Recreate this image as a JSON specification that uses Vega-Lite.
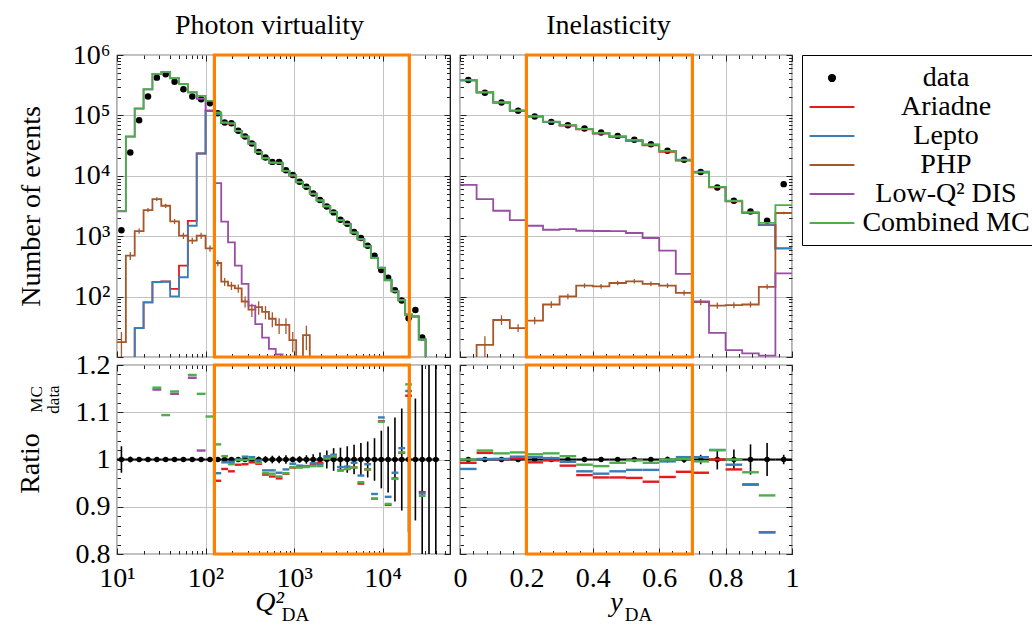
{
"$schema":"https://vega.github.io/schema/vega-lite/v6.json",
"autosize":{"type":"pad"},
"padding":{"left":15,"top":10,"right":0,"bottom":0},
"background":"white",
"config":{
 "font":"Liberation Serif",
 "view":{"stroke":"black","strokeWidth":1.2},
 "axis":{"domain":false,"minExtent":0,"labelFont":"Liberation Serif","labelFontSize":28,"labelColor":"black","titleFont":"Liberation Serif","titleFontSize":28,"titleFontWeight":"normal","titleColor":"black","tickColor":"#222222","tickWidth":1,"gridColor":"#c4c4c4","gridWidth":1,"gridOpacity":1,"labelFlush":false,"labelOverlap":false,"labelBound":false},
 "axisX":{"minExtent":0},
 "axisY":{"minExtent":0}
},
"datasets":{
"q":[
{"lo":10,"hi":12.589,"c":11.22,"d":1260,"elo":0.972,"ehi":1.028,"A":1,"L":1,"P":17.6,"plo":9,"phi":26,"W":2590,"M":2600},
{"lo":12.589,"hi":15.849,"c":14.13,"d":24300,"elo":0.994,"ehi":1.006,"A":1,"L":1,"P":476,"plo":405,"phi":547,"W":44500,"M":44700},
{"lo":15.849,"hi":19.953,"c":17.78,"d":83000,"elo":0.996,"ehi":1.004,"A":30,"L":30,"P":1216,"plo":1094,"phi":1338,"W":129300,"M":130000},
{"lo":19.953,"hi":25.119,"c":22.39,"d":205000,"elo":0.997,"ehi":1.003,"A":80,"L":80,"P":2710,"plo":2493,"phi":2927,"W":269500,"M":271000},
{"lo":25.119,"hi":31.623,"c":28.18,"d":422000,"elo":0.998,"ehi":1.002,"A":173,"L":173,"P":4110,"plo":3822,"phi":4398,"W":484500,"M":486000,"rW":1.148,"rM":1.152},
{"lo":31.623,"hi":39.811,"c":35.48,"d":479000,"elo":0.998,"ehi":1.002,"A":179,"L":176,"P":3190,"plo":2935,"phi":3445,"W":521000,"M":524000,"rM":1.094},
{"lo":39.811,"hi":50.119,"c":44.67,"d":362000,"elo":0.998,"ehi":1.002,"A":134,"L":101,"P":1760,"plo":1584,"phi":1936,"W":412000,"M":414000,"rW":1.139,"rM":1.144},
{"lo":50.119,"hi":63.096,"c":56.23,"d":271000,"elo":0.998,"ehi":1.002,"A":325,"L":209,"P":1020,"plo":898,"phi":1142,"W":330000,"M":331000},
{"lo":63.096,"hi":79.433,"c":70.79,"d":205000,"elo":0.998,"ehi":1.002,"A":1800,"L":1490,"P":843,"plo":742,"phi":944,"W":240500,"M":241700,"rW":1.173,"rM":1.179},
{"lo":79.433,"hi":100,"c":89.13,"d":185000,"elo":0.998,"ehi":1.002,"A":23400,"L":23400,"P":1020,"plo":898,"phi":1142,"W":188500,"M":210700,"rW":1.019,"rM":1.139},
{"lo":100,"hi":125.89,"c":112.2,"d":159000,"elo":0.997,"ehi":1.003,"A":120000,"L":118000,"P":629,"plo":554,"phi":704,"W":120000,"M":173500,"rM":1.091},
{"lo":125.89,"hi":150.27,"c":137.5,"d":108700,"elo":0.997,"ehi":1.003,"A":103800,"L":105500,"P":360,"plo":317,"phi":403,"W":7570,"M":112200,"rA":0.955,"rL":0.971,"rM":1.032},
{"lo":150.27,"hi":179.39,"c":164.2,"d":76200,"elo":0.996,"ehi":1.004,"A":74680,"L":75740,"P":177,"plo":150,"phi":204,"W":1740,"M":76730,"rA":0.980,"rL":0.994,"rM":1.007},
{"lo":179.39,"hi":214.15,"c":196.0,"d":74300,"elo":0.996,"ehi":1.004,"A":72440,"L":73930,"P":152,"plo":129,"phi":175,"W":791,"M":73560,"rA":0.975,"rL":0.995,"rM":0.990},
{"lo":214.15,"hi":255.65,"c":234.0,"d":55500,"elo":0.996,"ehi":1.004,"A":54890,"L":55500,"P":137,"plo":116,"phi":158,"W":325,"M":55440,"rA":0.989,"rL":1.000,"rM":0.999},
{"lo":255.65,"hi":305.18,"c":279.3,"d":44700,"elo":0.995,"ehi":1.005,"A":44250,"L":44970,"P":83,"plo":66,"phi":100,"W":162,"M":44660,"rA":0.990,"rL":1.006,"rM":0.999},
{"lo":305.18,"hi":364.31,"c":333.4,"d":34200,"elo":0.995,"ehi":1.005,"A":33990,"L":34370,"P":61,"plo":46,"phi":76,"W":71,"M":34230,"rA":0.994,"rL":1.005,"rM":1.001},
{"lo":364.31,"hi":434.91,"c":398.0,"d":24900,"elo":0.994,"ehi":1.006,"A":24680,"L":24850,"P":67,"plo":50,"phi":84,"W":35,"M":24730,"rA":0.991,"rL":0.998,"rM":0.993},
{"lo":434.91,"hi":519.18,"c":475.1,"d":20100,"elo":0.993,"ehi":1.007,"A":19460,"L":19640,"P":56,"plo":42,"phi":70,"W":21,"M":19520,"rA":0.968,"rL":0.977,"rM":0.971},
{"lo":519.18,"hi":619.77,"c":567.2,"d":17000,"elo":0.992,"ehi":1.008,"A":16390,"L":16610,"P":43,"plo":31,"phi":55,"W":13.6,"M":16490,"rA":0.964,"rL":0.977,"rM":0.970},
{"lo":619.77,"hi":739.86,"c":677.1,"d":17000,"elo":0.992,"ehi":1.008,"A":16320,"L":16520,"P":34,"plo":24,"phi":44,"W":11,"M":16390,"rA":0.960,"rL":0.972,"rM":0.964},
{"lo":739.86,"hi":883.21,"c":808.3,"d":12400,"elo":0.991,"ehi":1.009,"A":12030,"L":12140,"P":34,"plo":24,"phi":44,"W":1,"M":12040,"rA":0.970,"rL":0.979,"rM":0.971},
{"lo":883.21,"hi":1054.3,"c":964.9,"d":10300,"elo":0.994,"ehi":1.006,"A":10120,"L":10210,"P":19,"plo":12,"phi":26,"W":1,"M":10140,"rA":0.983,"rL":0.991,"rM":0.984},
{"lo":1054.3,"hi":1258.9,"c":1151.9,"d":7960,"elo":0.993,"ehi":1.007,"A":7830,"L":7860,"P":1,"W":1,"M":7820,"rA":0.984,"rL":0.987,"rM":0.983},
{"lo":1258.9,"hi":1502.7,"c":1375.1,"d":6580,"elo":0.991,"ehi":1.009,"A":6490,"L":6490,"P":23,"plo":13,"phi":33,"W":1,"M":6470,"rA":0.986,"rL":0.986,"rM":0.984},
{"lo":1502.7,"hi":1793.9,"c":1641.6,"d":5100,"elo":0.989,"ehi":1.011,"A":5050,"L":5060,"P":1,"W":1,"M":5030,"rA":0.991,"rL":0.992,"rM":0.986},
{"lo":1793.9,"hi":2141.5,"c":1959.7,"d":3960,"elo":0.985,"ehi":1.015,"A":3930,"L":3920,"P":1,"W":1,"M":3900,"rA":0.993,"rL":0.990,"rM":0.986},
{"lo":2141.5,"hi":2556.5,"c":2339.4,"d":3110,"elo":0.981,"ehi":1.019,"A":3120,"L":3130,"P":1,"W":1,"M":3120,"rA":1.004,"rL":1.007,"rM":1.002},
{"lo":2556.5,"hi":3051.8,"c":2792.7,"d":2480,"elo":0.976,"ehi":1.024,"A":2490,"L":2500,"P":1,"W":1,"M":2500,"rA":1.006,"rL":1.010,"rM":1.007},
{"lo":3051.8,"hi":3643.1,"c":3333.9,"d":1870,"elo":0.975,"ehi":1.025,"A":1830,"L":1840,"P":1,"W":1,"M":1830,"rA":0.977,"rL":0.984,"rM":0.977},
{"lo":3643.1,"hi":4349.1,"c":3979.9,"d":1610,"elo":0.972,"ehi":1.028,"A":1580,"L":1590,"P":1,"W":1,"M":1580,"rA":0.980,"rL":0.985,"rM":0.980},
{"lo":4349.1,"hi":5191.8,"c":4751.1,"d":1170,"elo":0.969,"ehi":1.031,"A":1150,"L":1160,"P":1,"W":1,"M":1150,"rA":0.983,"rL":0.993,"rM":0.983},
{"lo":5191.8,"hi":6197.7,"c":5671.8,"d":933,"elo":0.965,"ehi":1.035,"A":885,"L":901,"P":1,"W":1,"M":888,"rA":0.949,"rL":0.966,"rM":0.952},
{"lo":6197.7,"hi":7398.6,"c":6770.9,"d":697,"elo":0.962,"ehi":1.038,"A":682,"L":690,"P":1,"W":1,"M":682,"rA":0.979,"rL":0.990,"rM":0.979},
{"lo":7398.6,"hi":8832.1,"c":8082.9,"d":476,"elo":0.955,"ehi":1.045,"A":436,"L":441,"P":1,"W":1,"M":436,"rA":0.917,"rL":0.927,"rM":0.917},
{"lo":8832.1,"hi":10546,"c":9649.1,"d":276,"elo":0.939,"ehi":1.061,"A":298,"L":301,"P":1,"W":1,"M":298,"rA":1.081,"rL":1.089,"rM":1.080},
{"lo":10546,"hi":12589,"c":11519,"d":206,"elo":0.93,"ehi":1.07,"A":186,"L":190,"P":1,"W":1,"M":187,"rA":0.904,"rL":0.921,"rM":0.906},
{"lo":12589,"hi":15027,"c":13751,"d":127,"elo":0.911,"ehi":1.089,"A":122,"L":123,"P":1,"W":1,"M":122,"rA":0.960,"rL":0.972,"rM":0.959},
{"lo":15027,"hi":17939,"c":16416,"d":86,"elo":0.892,"ehi":1.108,"A":87,"L":88,"P":1,"W":1,"M":87,"rA":1.014,"rL":1.024,"rM":1.015},
{"lo":17939,"hi":21415,"c":19597,"d":44,"elo":0.846,"ehi":1.154,"A":49.9,"L":50.4,"P":1,"W":1,"M":51,"rA":1.135,"rL":1.145,"rM":1.159},
{"lo":21415,"hi":25565,"c":23394,"d":60,"elo":0.871,"ehi":1.129,"A":46.8,"L":46.8,"P":1,"W":1,"M":47},
{"lo":25565,"hi":30518,"c":27927,"d":21,"elo":0.7,"ehi":1.3,"A":19.6,"L":19.5,"P":1,"W":1,"M":19.4,"rA":0.931,"rL":0.928,"rM":0.923},
{"lo":30518,"hi":36431,"c":33339,"d":5,"elo":0.5,"ehi":1.5,"A":1,"L":1,"P":1,"W":1,"M":1},
{"lo":36431,"hi":43491,"c":39799,"d":3,"elo":0.4,"ehi":1.6,"A":1,"L":1,"P":1,"W":1,"M":1},
{"lo":43491,"A":1,"L":1,"P":1,"W":1,"M":1}
],
"y":[
{"lo":0,"hi":0.05,"c":0.025,"d":386000,"elo":0.998,"ehi":1.002,"A":383300,"L":378300,"P":3,"W":7100,"M":386000,"rA":0.993,"rL":0.980,"rM":1.000},
{"lo":0.05,"hi":0.1,"c":0.075,"d":238000,"elo":0.998,"ehi":1.002,"A":241300,"L":238200,"P":15.9,"plo":10,"phi":22,"W":4110,"M":242500,"rA":1.014,"rL":1.001,"rM":1.019},
{"lo":0.1,"hi":0.15,"c":0.125,"d":163000,"elo":0.998,"ehi":1.002,"A":163200,"L":163200,"P":41,"plo":34,"phi":49,"W":2640,"M":165100,"rA":1.001,"rL":1.001,"rM":1.013},
{"lo":0.15,"hi":0.2,"c":0.175,"d":119000,"elo":0.997,"ehi":1.003,"A":119200,"L":119700,"P":30,"plo":26,"phi":35,"W":1850,"M":120800,"rA":1.002,"rL":1.006,"rM":1.015},
{"lo":0.2,"hi":0.25,"c":0.225,"d":95700,"elo":0.997,"ehi":1.003,"A":95130,"L":96180,"P":40,"plo":35,"phi":46,"W":1490,"M":96750,"rA":0.994,"rL":1.005,"rM":1.011},
{"lo":0.25,"hi":0.3,"c":0.275,"d":78100,"elo":0.997,"ehi":1.003,"A":77940,"L":78330,"P":74,"plo":65,"phi":84,"W":1280,"M":79120,"rA":0.998,"rL":1.003,"rM":1.013},
{"lo":0.3,"hi":0.35,"c":0.325,"d":68800,"elo":0.997,"ehi":1.003,"A":67910,"L":68460,"P":101,"plo":90,"phi":112,"W":1310,"M":69280,"rA":0.987,"rL":0.995,"rM":1.007},
{"lo":0.35,"hi":0.4,"c":0.375,"d":60600,"elo":0.997,"ehi":1.003,"A":58600,"L":59090,"P":152,"plo":138,"phi":166,"W":1230,"M":59930,"rA":0.967,"rL":0.975,"rM":0.989},
{"lo":0.4,"hi":0.45,"c":0.425,"d":52000,"elo":0.996,"ehi":1.004,"A":50020,"L":50440,"P":148,"plo":135,"phi":162,"W":1220,"M":51270,"rA":0.962,"rL":0.970,"rM":0.986},
{"lo":0.45,"hi":0.5,"c":0.475,"d":45800,"elo":0.996,"ehi":1.004,"A":44060,"L":44660,"P":168,"plo":154,"phi":183,"W":1210,"M":45480,"rA":0.962,"rL":0.975,"rM":0.993},
{"lo":0.5,"hi":0.55,"c":0.525,"d":39400,"elo":0.995,"ehi":1.005,"A":37860,"L":38530,"P":179,"plo":164,"phi":195,"W":1130,"M":39320,"rA":0.961,"rL":0.978,"rM":0.998},
{"lo":0.55,"hi":0.6,"c":0.575,"d":33400,"elo":0.995,"ehi":1.005,"A":31830,"L":32670,"P":162,"plo":148,"phi":177,"W":933,"M":33170,"rA":0.953,"rL":0.978,"rM":0.993},
{"lo":0.6,"hi":0.65,"c":0.625,"d":25900,"elo":0.994,"ehi":1.006,"A":24940,"L":25800,"P":152,"plo":139,"phi":166,"W":575,"M":25900,"rA":0.963,"rL":0.996,"rM":1.000},
{"lo":0.65,"hi":0.7,"c":0.675,"d":18400,"elo":0.993,"ehi":1.007,"A":17920,"L":18490,"P":115,"plo":104,"phi":127,"W":237,"M":18420,"rA":0.974,"rL":1.005,"rM":1.001},
{"lo":0.7,"hi":0.75,"c":0.725,"d":11600,"elo":0.99,"ehi":1.01,"A":11280,"L":11660,"P":81,"plo":72,"phi":91,"W":83,"M":11550,"rA":0.972,"rL":1.005,"rM":0.996},
{"lo":0.75,"hi":0.8,"c":0.775,"d":6410,"elo":0.979,"ehi":1.021,"A":6410,"L":6540,"P":71,"plo":63,"phi":80,"W":25,"M":6540,"rA":1.000,"rL":1.020,"rM":1.020},
{"lo":0.8,"hi":0.85,"c":0.825,"d":3860,"elo":0.979,"ehi":1.021,"A":3780,"L":3820,"P":72,"plo":64,"phi":81,"W":13,"M":3860,"rA":0.979,"rL":0.989,"rM":1.000},
{"lo":0.85,"hi":0.9,"c":0.875,"d":2570,"elo":0.968,"ehi":1.032,"A":2430,"L":2430,"P":74,"plo":66,"phi":83,"W":11.5,"M":2500,"rA":0.947,"rL":0.947,"rM":0.973},
{"lo":0.9,"hi":0.95,"c":0.925,"d":1800,"elo":0.965,"ehi":1.035,"A":1523,"L":1523,"P":145,"plo":132,"phi":160,"W":10.5,"M":1663,"rA":0.846,"rL":0.846,"rM":0.924},
{"lo":0.95,"hi":1.0,"c":0.975,"d":7280,"elo":0.99,"ehi":1.01,"A":631,"L":631,"P":2420,"plo":2300,"phi":2540,"W":243,"M":3270},
{"lo":1.0,"A":631,"L":631,"P":2420,"W":243,"M":3270}
]
},
"columns":2,
"spacing":{"row":8,"column":10},
"bounds":"flush",
"align":"all",
"concat":[
{
 "width":333,"height":302,
 "data":{"name":"q"},
 "resolve":{"axis":{"x":"independent","y":"independent"}},
 "layer":[
  {"mark":{"type":"circle","size":42,"opacity":1,"clip":true},
   "encoding":{
    "x":{"field":"c","type":"quantitative","scale":{"type":"log","domain":[10,57544],"nice":false},"axis":{"orient":"bottom","values":[10,100,1000,10000],"ticks":false,"labels":false,"grid":true,"title":null}},
    "y":{"field":"d","type":"quantitative","scale":{"type":"log","domain":[10,1000000],"nice":false},"axis":{"orient":"left","values":[10,100,1000,10000,100000,1000000],"ticks":false,"grid":true,"labelPadding":7,"labelExpr":"datum.value < 50 ? '' : '10' + ['⁰','¹','²','³','⁴','⁵','⁶'][round(log(datum.value)/LN10)]","title":"Number of events","titleX":-86,"titleY":151,"titleBaseline":"middle"}},
    "color":{"datum":"data","type":"nominal",
     "scale":{"domain":["data","Ariadne","Lepto","PHP","Low-Q² DIS","Combined MC"],"range":["#000000","#e41a1c","#377eb8","#a65628","#984ea3","#4daf4a"]},
     "legend":{"orient":"none","legendX":685,"legendY":0,"title":null,"padding":8,"strokeColor":"black","fillColor":"white","symbolSize":784,"symbolOffset":7,"symbolStrokeWidth":2,
      "symbolType":{"expr":"datum.value === 'data' ? 'M-0.22,0A0.22,0.22,0,1,1,0.22,0A0.22,0.22,0,1,1,-0.22,0Z' : 'M-1.6,0H1.6'"},
      "symbolFillColor":{"expr":"datum.value === 'data' ? 'black' : 'transparent'"},
      "symbolStrokeColor":{"expr":"scale('color', datum.value)"},
      "labelOffset":99,"labelAlign":"center","labelBaseline":"middle","labelFont":"Liberation Serif","labelFontSize":28,"labelColor":"black","labelLimit":0,"rowPadding":-4}}
   }},
  {"mark":{"type":"line","interpolate":"step-after","strokeWidth":1.8,"clip":true},
   "encoding":{
    "x":{"field":"lo","type":"quantitative","axis":{"orient":"bottom","values":[10,100,1000,10000],"tickSize":-6,"labels":false,"grid":false,"title":null}},
    "y":{"field":"A","type":"quantitative","axis":{"orient":"left","values":[10,100,1000,10000,100000,1000000],"tickSize":-6,"labels":false,"grid":false,"title":null}},
    "color":{"datum":"Ariadne","type":"nominal"}}},
  {"mark":{"type":"line","interpolate":"step-after","strokeWidth":1.8,"clip":true},
   "encoding":{
    "x":{"field":"lo","type":"quantitative","axis":{"orient":"bottom","values":[20,30,40,50,60,70,80,90,200,300,400,500,600,700,800,900,2000,3000,4000,5000,6000,7000,8000,9000,20000,30000,40000,50000],"tickSize":-3.5,"labels":false,"grid":false,"title":null}},
    "y":{"field":"L","type":"quantitative","axis":{"orient":"left","values":[20,30,40,50,60,70,80,90,200,300,400,500,600,700,800,900,2000,3000,4000,5000,6000,7000,8000,9000,20000,30000,40000,50000,60000,70000,80000,90000,200000,300000,400000,500000,600000,700000,800000,900000],"tickSize":-3.5,"labels":false,"grid":false,"title":null}},
    "color":{"datum":"Lepto","type":"nominal"}}},
  {"mark":{"type":"line","interpolate":"step-after","strokeWidth":1.8,"clip":true},
   "encoding":{
    "x":{"field":"lo","type":"quantitative","axis":{"orient":"top","values":[10,100,1000,10000],"tickSize":-6,"labels":false,"grid":false,"title":"Photon virtuality","titleX":152,"titleY":-22,"titleBaseline":"alphabetic","titleAlign":"center","titleAngle":0}},
    "y":{"field":"P","type":"quantitative","axis":{"orient":"right","values":[10,100,1000,10000,100000,1000000],"tickSize":-6,"labels":false,"grid":false,"title":null}},
    "color":{"datum":"PHP","type":"nominal"}}},
  {"mark":{"type":"line","interpolate":"step-after","strokeWidth":1.8,"clip":true},
   "encoding":{
    "x":{"field":"lo","type":"quantitative","axis":{"orient":"top","values":[20,30,40,50,60,70,80,90,200,300,400,500,600,700,800,900,2000,3000,4000,5000,6000,7000,8000,9000,20000,30000,40000,50000],"tickSize":-3.5,"labels":false,"grid":false,"title":null}},
    "y":{"field":"W","type":"quantitative","axis":{"orient":"right","values":[20,30,40,50,60,70,80,90,200,300,400,500,600,700,800,900,2000,3000,4000,5000,6000,7000,8000,9000,20000,30000,40000,50000,60000,70000,80000,90000,200000,300000,400000,500000,600000,700000,800000,900000],"tickSize":-3.5,"labels":false,"grid":false,"title":null}},
    "color":{"datum":"Low-Q² DIS","type":"nominal"}}},
  {"mark":{"type":"line","interpolate":"step-after","strokeWidth":1.8,"clip":true},
   "encoding":{
    "x":{"field":"lo","type":"quantitative","axis":null},
    "y":{"field":"M","type":"quantitative","axis":null},
    "color":{"datum":"Combined MC","type":"nominal"}}},
  {"mark":{"type":"rule","strokeWidth":1.3,"clip":true},
   "encoding":{
    "x":{"field":"c","type":"quantitative","axis":null},
    "y":{"field":"plo","type":"quantitative","axis":null},
    "y2":{"field":"phi"},
    "color":{"datum":"PHP","type":"nominal"}}},
  {"data":{"values":[{"x1":125.89,"x2":20000}]},
   "mark":{"type":"rect","fill":"transparent","stroke":"#ff7f00","strokeWidth":3.2},
   "encoding":{"x":{"field":"x1","type":"quantitative","axis":null},"x2":{"field":"x2"}}}
 ]
},
{
 "width":332,"height":302,
 "data":{"name":"y"},
 "resolve":{"axis":{"x":"independent","y":"independent"}},
 "layer":[
  {"mark":{"type":"circle","size":42,"opacity":1,"clip":true},
   "encoding":{
    "x":{"field":"c","type":"quantitative","scale":{"domain":[0,1],"nice":false,"zero":false},"axis":{"orient":"bottom","values":[0,0.2,0.4,0.6,0.8,1],"ticks":false,"labels":false,"grid":true,"title":null}},
    "y":{"field":"d","type":"quantitative","scale":{"type":"log","domain":[10,1000000],"nice":false},"axis":{"orient":"left","values":[10,100,1000,10000,100000,1000000],"ticks":false,"labels":false,"grid":true,"title":null}},
    "color":{"datum":"data","type":"nominal"}}},
  {"mark":{"type":"line","interpolate":"step-after","strokeWidth":1.8,"clip":true},
   "encoding":{
    "x":{"field":"lo","type":"quantitative","axis":{"orient":"bottom","values":[0,0.2,0.4,0.6,0.8,1],"tickSize":-6,"labels":false,"grid":false,"title":null}},
    "y":{"field":"A","type":"quantitative","axis":{"orient":"left","values":[10,100,1000,10000,100000,1000000],"tickSize":-6,"labels":false,"grid":false,"title":null}},
    "color":{"datum":"Ariadne","type":"nominal"}}},
  {"mark":{"type":"line","interpolate":"step-after","strokeWidth":1.8,"clip":true},
   "encoding":{
    "x":{"field":"lo","type":"quantitative","axis":{"orient":"bottom","values":[0.04,0.08,0.12,0.16,0.24,0.28,0.32,0.36,0.44,0.48,0.52,0.56,0.64,0.68,0.72,0.76,0.84,0.88,0.92,0.96],"tickSize":-3.5,"labels":false,"grid":false,"title":null}},
    "y":{"field":"L","type":"quantitative","axis":{"orient":"left","values":[20,30,40,50,60,70,80,90,200,300,400,500,600,700,800,900,2000,3000,4000,5000,6000,7000,8000,9000,20000,30000,40000,50000,60000,70000,80000,90000,200000,300000,400000,500000,600000,700000,800000,900000],"tickSize":-3.5,"labels":false,"grid":false,"title":null}},
    "color":{"datum":"Lepto","type":"nominal"}}},
  {"mark":{"type":"line","interpolate":"step-after","strokeWidth":1.8,"clip":true},
   "encoding":{
    "x":{"field":"lo","type":"quantitative","axis":{"orient":"top","values":[0,0.2,0.4,0.6,0.8,1],"tickSize":-6,"labels":false,"grid":false,"title":"Inelasticity","titleX":148,"titleY":-22,"titleBaseline":"alphabetic","titleAlign":"center","titleAngle":0}},
    "y":{"field":"P","type":"quantitative","axis":{"orient":"right","values":[10,100,1000,10000,100000,1000000],"tickSize":-6,"labels":false,"grid":false,"title":null}},
    "color":{"datum":"PHP","type":"nominal"}}},
  {"mark":{"type":"line","interpolate":"step-after","strokeWidth":1.8,"clip":true},
   "encoding":{
    "x":{"field":"lo","type":"quantitative","axis":{"orient":"top","values":[0.04,0.08,0.12,0.16,0.24,0.28,0.32,0.36,0.44,0.48,0.52,0.56,0.64,0.68,0.72,0.76,0.84,0.88,0.92,0.96],"tickSize":-3.5,"labels":false,"grid":false,"title":null}},
    "y":{"field":"W","type":"quantitative","axis":{"orient":"right","values":[20,30,40,50,60,70,80,90,200,300,400,500,600,700,800,900,2000,3000,4000,5000,6000,7000,8000,9000,20000,30000,40000,50000,60000,70000,80000,90000,200000,300000,400000,500000,600000,700000,800000,900000],"tickSize":-3.5,"labels":false,"grid":false,"title":null}},
    "color":{"datum":"Low-Q² DIS","type":"nominal"}}},
  {"mark":{"type":"line","interpolate":"step-after","strokeWidth":1.8,"clip":true},
   "encoding":{
    "x":{"field":"lo","type":"quantitative","axis":null},
    "y":{"field":"M","type":"quantitative","axis":null},
    "color":{"datum":"Combined MC","type":"nominal"}}},
  {"mark":{"type":"rule","strokeWidth":1.3,"clip":true},
   "encoding":{
    "x":{"field":"c","type":"quantitative","axis":null},
    "y":{"field":"plo","type":"quantitative","axis":null},
    "y2":{"field":"phi"},
    "color":{"datum":"PHP","type":"nominal"}}},
  {"data":{"values":[{"x1":0.2,"x2":0.7}]},
   "mark":{"type":"rect","fill":"transparent","stroke":"#ff7f00","strokeWidth":3.2},
   "encoding":{"x":{"field":"x1","type":"quantitative","axis":null},"x2":{"field":"x2"}}}
 ]
},
{
 "width":333,"height":189,
 "data":{"name":"q"},
 "resolve":{"axis":{"x":"independent","y":"independent"}},
 "layer":[
  {"transform":[{"filter":{"field":"d","valid":true}}],
   "mark":{"type":"rule","color":"black","strokeWidth":2,"clip":true},
   "encoding":{
    "x":{"field":"lo","type":"quantitative","scale":{"type":"log","domain":[10,57544],"nice":false},"axis":null},
    "x2":{"field":"hi"},
    "y":{"datum":1,"type":"quantitative","scale":{"domain":[0.8,1.2],"nice":false,"zero":false},"axis":null}}},
  {"mark":{"type":"rule","color":"black","strokeWidth":1.6,"clip":true},
   "encoding":{
    "x":{"field":"c","type":"quantitative","axis":{"orient":"top","values":[20,30,40,50,60,70,80,90,200,300,400,500,600,700,800,900,2000,3000,4000,5000,6000,7000,8000,9000,20000,30000,40000,50000],"tickSize":-3.5,"labels":false,"grid":false,"title":null}},
    "y":{"field":"elo","type":"quantitative","axis":{"orient":"right","values":[0.82,0.84,0.86,0.88,0.92,0.94,0.96,0.98,1.02,1.04,1.06,1.08,1.12,1.14,1.16,1.18],"tickSize":-3.5,"labels":false,"grid":false,"title":null}},
    "y2":{"field":"ehi"}}},
  {"transform":[{"filter":{"field":"d","valid":true}}],
   "mark":{"type":"circle","color":"black","size":30,"opacity":1,"clip":true},
   "encoding":{
    "x":{"field":"c","type":"quantitative","axis":null},
    "y":{"datum":1,"type":"quantitative","axis":null}}},
  {"mark":{"type":"rule","strokeWidth":2.4,"clip":true},
   "encoding":{
    "x":{"field":"lo","type":"quantitative","axis":{"orient":"bottom","values":[10,100,1000,10000],"ticks":false,"labels":true,"grid":true,"labelPadding":10,"labelExpr":"'10' + ['⁰','¹','²','³','⁴','⁵','⁶'][round(log(datum.value)/LN10)]","title":"Q²","titleFontStyle":"italic","titleX":152,"titleY":56,"titleBaseline":"alphabetic","titleAlign":"center"}},
    "x2":{"field":"hi"},
    "y":{"field":"rA","type":"quantitative","axis":{"orient":"left","values":[0.8,0.9,1,1.1,1.2],"ticks":false,"grid":true,"labelPadding":7,"labelExpr":"format(datum.value, '.1~f')","title":"Ratio","titleX":-87,"titleY":98,"titleBaseline":"middle"}},
    "color":{"datum":"Ariadne","type":"nominal"}}},
  {"mark":{"type":"rule","strokeWidth":2.4,"clip":true},
   "encoding":{
    "x":{"field":"lo","type":"quantitative","axis":{"orient":"bottom","values":[10,100,1000,10000],"tickSize":-6,"labels":false,"grid":false,"title":"DA","titleFontSize":19,"titleX":178,"titleY":66,"titleBaseline":"alphabetic","titleAlign":"center"}},
    "x2":{"field":"hi"},
    "y":{"field":"rL","type":"quantitative","axis":{"orient":"left","values":[0.8,0.9,1,1.1,1.2],"tickSize":-6,"labels":false,"grid":false,"title":["MC","data"],"titleFontSize":17,"titleLineHeight":17,"titleX":-81,"titleY":34,"titleBaseline":"middle"}},
    "color":{"datum":"Lepto","type":"nominal"}}},
  {"mark":{"type":"rule","strokeWidth":2.4,"clip":true},
   "encoding":{
    "x":{"field":"lo","type":"quantitative","axis":{"orient":"bottom","values":[20,30,40,50,60,70,80,90,200,300,400,500,600,700,800,900,2000,3000,4000,5000,6000,7000,8000,9000,20000,30000,40000,50000],"tickSize":-3.5,"labels":false,"grid":false,"title":null}},
    "x2":{"field":"hi"},
    "y":{"field":"rW","type":"quantitative","axis":{"orient":"left","values":[0.82,0.84,0.86,0.88,0.92,0.94,0.96,0.98,1.02,1.04,1.06,1.08,1.12,1.14,1.16,1.18],"tickSize":-3.5,"labels":false,"grid":false,"title":null}},
    "color":{"datum":"Low-Q² DIS","type":"nominal"}}},
  {"mark":{"type":"rule","strokeWidth":2.4,"clip":true},
   "encoding":{
    "x":{"field":"lo","type":"quantitative","axis":{"orient":"top","values":[10,100,1000,10000],"tickSize":-6,"labels":false,"grid":false,"title":null}},
    "x2":{"field":"hi"},
    "y":{"field":"rM","type":"quantitative","axis":{"orient":"right","values":[0.8,0.9,1,1.1,1.2],"tickSize":-6,"labels":false,"grid":false,"title":null}},
    "color":{"datum":"Combined MC","type":"nominal"}}},
  {"data":{"values":[{"x1":125.89,"x2":20000}]},
   "mark":{"type":"rect","fill":"transparent","stroke":"#ff7f00","strokeWidth":3.2},
   "encoding":{"x":{"field":"x1","type":"quantitative","axis":null},"x2":{"field":"x2"}}}
 ]
},
{
 "width":332,"height":189,
 "data":{"name":"y"},
 "resolve":{"axis":{"x":"independent","y":"independent"}},
 "layer":[
  {"transform":[{"filter":{"field":"d","valid":true}}],
   "mark":{"type":"rule","color":"black","strokeWidth":2,"clip":true},
   "encoding":{
    "x":{"field":"lo","type":"quantitative","scale":{"domain":[0,1],"nice":false,"zero":false},"axis":null},
    "x2":{"field":"hi"},
    "y":{"datum":1,"type":"quantitative","scale":{"domain":[0.8,1.2],"nice":false,"zero":false},"axis":null}}},
  {"mark":{"type":"rule","color":"black","strokeWidth":1.6,"clip":true},
   "encoding":{
    "x":{"field":"c","type":"quantitative","axis":{"orient":"top","values":[0.04,0.08,0.12,0.16,0.24,0.28,0.32,0.36,0.44,0.48,0.52,0.56,0.64,0.68,0.72,0.76,0.84,0.88,0.92,0.96],"tickSize":-3.5,"labels":false,"grid":false,"title":null}},
    "y":{"field":"elo","type":"quantitative","axis":{"orient":"right","values":[0.82,0.84,0.86,0.88,0.92,0.94,0.96,0.98,1.02,1.04,1.06,1.08,1.12,1.14,1.16,1.18],"tickSize":-3.5,"labels":false,"grid":false,"title":null}},
    "y2":{"field":"ehi"}}},
  {"transform":[{"filter":{"field":"d","valid":true}}],
   "mark":{"type":"circle","color":"black","size":30,"opacity":1,"clip":true},
   "encoding":{
    "x":{"field":"c","type":"quantitative","axis":null},
    "y":{"datum":1,"type":"quantitative","axis":null}}},
  {"mark":{"type":"rule","strokeWidth":2.4,"clip":true},
   "encoding":{
    "x":{"field":"lo","type":"quantitative","axis":{"orient":"bottom","values":[0,0.2,0.4,0.6,0.8,1],"ticks":false,"labels":true,"grid":true,"labelPadding":10,"labelExpr":"format(datum.value, '.1~f')","title":"y","titleFontStyle":"italic","titleX":156,"titleY":56,"titleBaseline":"alphabetic","titleAlign":"center"}},
    "x2":{"field":"hi"},
    "y":{"field":"rA","type":"quantitative","axis":{"orient":"left","values":[0.8,0.9,1,1.1,1.2],"ticks":false,"labels":false,"grid":true,"title":null}},
    "color":{"datum":"Ariadne","type":"nominal"}}},
  {"mark":{"type":"rule","strokeWidth":2.4,"clip":true},
   "encoding":{
    "x":{"field":"lo","type":"quantitative","axis":{"orient":"bottom","values":[0,0.2,0.4,0.6,0.8,1],"tickSize":-6,"labels":false,"grid":false,"title":"DA","titleFontSize":19,"titleX":178,"titleY":66,"titleBaseline":"alphabetic","titleAlign":"center"}},
    "x2":{"field":"hi"},
    "y":{"field":"rL","type":"quantitative","axis":{"orient":"left","values":[0.8,0.9,1,1.1,1.2],"tickSize":-6,"labels":false,"grid":false,"title":null}},
    "color":{"datum":"Lepto","type":"nominal"}}},
  {"mark":{"type":"rule","strokeWidth":2.4,"clip":true},
   "encoding":{
    "x":{"field":"lo","type":"quantitative","axis":{"orient":"bottom","values":[0.04,0.08,0.12,0.16,0.24,0.28,0.32,0.36,0.44,0.48,0.52,0.56,0.64,0.68,0.72,0.76,0.84,0.88,0.92,0.96],"tickSize":-3.5,"labels":false,"grid":false,"title":null}},
    "x2":{"field":"hi"},
    "y":{"field":"rW","type":"quantitative","axis":{"orient":"left","values":[0.82,0.84,0.86,0.88,0.92,0.94,0.96,0.98,1.02,1.04,1.06,1.08,1.12,1.14,1.16,1.18],"tickSize":-3.5,"labels":false,"grid":false,"title":null}},
    "color":{"datum":"Low-Q² DIS","type":"nominal"}}},
  {"mark":{"type":"rule","strokeWidth":2.4,"clip":true},
   "encoding":{
    "x":{"field":"lo","type":"quantitative","axis":{"orient":"top","values":[0,0.2,0.4,0.6,0.8,1],"tickSize":-6,"labels":false,"grid":false,"title":null}},
    "x2":{"field":"hi"},
    "y":{"field":"rM","type":"quantitative","axis":{"orient":"right","values":[0.8,0.9,1,1.1,1.2],"tickSize":-6,"labels":false,"grid":false,"title":null}},
    "color":{"datum":"Combined MC","type":"nominal"}}},
  {"data":{"values":[{"x1":0.2,"x2":0.7}]},
   "mark":{"type":"rect","fill":"transparent","stroke":"#ff7f00","strokeWidth":3.2},
   "encoding":{"x":{"field":"x1","type":"quantitative","axis":null},"x2":{"field":"x2"}}}
 ]
}
]
}
